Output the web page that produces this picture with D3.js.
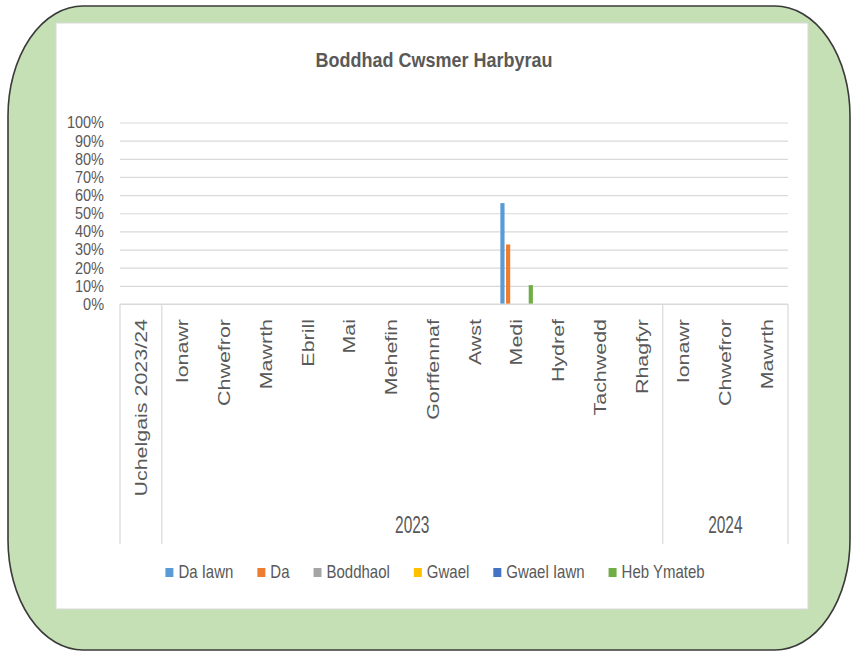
<!DOCTYPE html>
<html><head><meta charset="utf-8">
<script src="https://cdn.jsdelivr.net/npm/d3@7"></script>
<style>body{margin:0;background:#fff}svg{display:block}</style>
</head><body>
<svg id="c" width="852" height="653"></svg>
<script>
// ---- data ----
const categories = ["Uchelgais 2023/24","Ionawr","Chwefror","Mawrth","Ebrill","Mai","Mehefin","Gorffennaf","Awst","Medi","Hydref","Tachwedd","Rhagfyr","Ionawr","Chwefror","Mawrth"];
const groupLabels = ["", "2023", "2024"];
const groupSizes = [1, 12, 3];
const seriesNames = ["Da Iawn","Da","Boddhaol","Gwael","Gwael Iawn","Heb Ymateb"];
const daIawn    = [null,null,null,null,null,null,null,null,null,0.556,null,null,null,null,null,null];
const da        = [null,null,null,null,null,null,null,null,null,0.328,null,null,null,null,null,null];
const boddhaol  = [null,null,null,null,null,null,null,null,null,0,null,null,null,null,null,null];
const gwael     = [null,null,null,null,null,null,null,null,null,0,null,null,null,null,null,null];
const gwaelIawn = [null,null,null,null,null,null,null,null,null,0,null,null,null,null,null,null];
const hebYmateb = [null,null,null,null,null,null,null,null,null,0.104,null,null,null,null,null,null];
const yTicks = [0,0.1,0.2,0.3,0.4,0.5,0.6,0.7,0.8,0.9,1];
const titleText = "Boddhad Cwsmer Harbyrau";

const seriesValues = [daIawn, da, boddhaol, gwael, gwaelIawn, hebYmateb];
const colors = ["#5B9BD5","#ED7D31","#A5A5A5","#FFC000","#4472C4","#70AD47"];

// ---- layout ----
const FONT = "'Liberation Sans', Arial, sans-serif";
const TXT = "#595959";
const GRID = "#D9D9D9";
const svg = d3.select("#c");

// outer green frame
svg.append("rect").attr("x",8).attr("y",6).attr("width",842).attr("height",644)
  .attr("rx",75).attr("ry",110).attr("fill","#C5E0B4").attr("stroke","#3a3a3a").attr("stroke-width",1.6);
// white chart panel
svg.append("rect").attr("x",56).attr("y",23).attr("width",752).attr("height",586)
  .attr("fill","#fff").attr("stroke",GRID).attr("stroke-width",1);

const x0 = 120, x1 = 788, yTop = 122.5, yBot = 304;
const x = d3.scaleBand().domain(d3.range(categories.length)).range([x0, x1]).padding(0);
const y = d3.scaleLinear().domain([0,1]).range([yBot, yTop]);
const xs = d3.scaleBand().domain(seriesNames).range([4.6, x.bandwidth()-4.6]).paddingInner(0.26).paddingOuter(0);

// title
svg.append("text").text(titleText)
  .attr("transform","translate(434,66.5) scale(1,1.15)")
  .attr("text-anchor","middle").attr("font-family",FONT).attr("font-weight","bold")
  .attr("font-size",18).attr("fill",TXT);

// gridlines
const grid = svg.append("g").attr("transform",`translate(${x0},0)`)
  .call(d3.axisRight(y).tickValues(yTicks).tickSize(x1-x0).tickFormat(""));
grid.select(".domain").remove();
grid.selectAll("line").attr("stroke",GRID).attr("stroke-width",1.2);

// y labels
const yax = svg.append("g").attr("transform",`translate(${x0},0)`)
  .call(d3.axisLeft(y).tickValues(yTicks).tickSize(0).tickPadding(16).tickFormat(d3.format(".0%")));
yax.select(".domain").remove();
yax.selectAll("text").attr("font-family",FONT).attr("font-size",14.5).attr("fill",TXT)
  .attr("transform","scale(1,1.15)");

// bars
seriesNames.forEach((s, si) => {
  svg.append("g").selectAll("rect")
    .data(seriesValues[si].map((v,i)=>({v,i})).filter(d=>d.v!==null && d.v>0))
    .join("rect")
    .attr("x", d => x(d.i) + xs(s))
    .attr("width", xs.bandwidth())
    .attr("y", d => y(d.v))
    .attr("height", d => y(0) - y(d.v))
    .attr("fill", colors[si]);
});

// x axis structure
svg.append("line").attr("x1",x0).attr("x2",x1).attr("y1",yBot).attr("y2",yBot)
  .attr("stroke",GRID).attr("stroke-width",1.2);
let idx = 0;
const bounds = [0];
groupSizes.forEach(n => { idx += n; bounds.push(idx); });
svg.append("g").selectAll("line").data(bounds).join("line")
  .attr("x1", d => d < categories.length ? x(d) : x1)
  .attr("x2", d => d < categories.length ? x(d) : x1)
  .attr("y1", yBot).attr("y2", 544)
  .attr("stroke",GRID).attr("stroke-width",1.2);

// category labels (rotated)
const catFont = 16;
svg.append("g").selectAll("text").data(categories).join("text")
  .text(d => d)
  .attr("transform", (d,i) => `translate(${x(i) + x.bandwidth()/2 + 0.36*catFont},319) rotate(-90) scale(1.34,1)`)
  .attr("text-anchor","end").attr("font-family",FONT).attr("font-size",catFont).attr("fill",TXT);

// group labels
let start = 0;
groupLabels.forEach((g, gi) => {
  const end = start + groupSizes[gi];
  const cx = (x(start) + (end < categories.length ? x(end) : x1)) / 2;
  if (g) {
    svg.append("text").text(g)
      .attr("transform", `translate(${cx},533) scale(1,1.5)`)
      .attr("text-anchor","middle").attr("font-family",FONT).attr("font-size",15.5).attr("fill",TXT);
  }
  start = end;
});

// legend
const leg = svg.append("g");
let lx = 0;
const gapAfter = 24;
seriesNames.forEach((s, si) => {
  const g = leg.append("g");
  g.append("rect").attr("x",0).attr("y",568).attr("width",8).attr("height",9).attr("fill",colors[si]);
  const t = g.append("text").text(s).attr("x",13)
    .attr("transform","translate(0,578) scale(1,1.2) translate(0,-578)")
    .attr("y",578).attr("font-family",FONT).attr("font-size",15).attr("fill",TXT);
  const w = t.node().getComputedTextLength();
  g.attr("transform",`translate(${lx},0)`);
  lx += 13 + w + gapAfter;
});
const total = lx - gapAfter;
leg.attr("transform",`translate(${435 - total/2},0)`);
</script>
</body></html>
